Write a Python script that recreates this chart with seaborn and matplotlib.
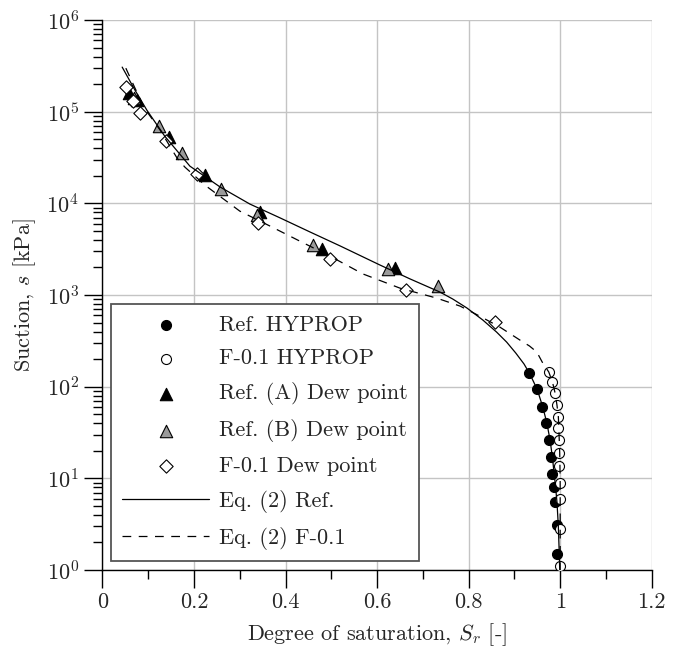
import matplotlib
matplotlib.use('Agg')
import matplotlib.pyplot as plt
import matplotlib.ticker as mticker
import seaborn as sns

sns.set_style('ticks')
plt.rcParams['font.family'] = ['cmr10', 'DejaVu Serif']
plt.rcParams['mathtext.fontset'] = 'cm'
plt.rcParams['axes.formatter.use_mathtext'] = True
plt.rcParams['font.size'] = 16

# Ref. HYPROP (black circles)
ref_hyp_sr = [0.932, 0.949, 0.961, 0.970, 0.976, 0.980, 0.983, 0.986, 0.989, 0.992, 0.993]
ref_hyp_s = [142, 93.5, 60.4, 39.8, 26.2, 17.2, 11.3, 7.98, 5.56, 3.1, 1.5]

# F-0.1 HYPROP (open circles)
f_hyp_sr = [0.976, 0.983, 0.989, 0.993, 0.996, 0.996, 0.997, 0.997, 0.997, 0.999, 0.999, 1.0, 1.0]
f_hyp_s = [146, 113, 84.7, 63, 47, 35.7, 26.2, 19, 13.6, 8.83, 5.9, 2.78, 1.1]

# Ref. (A) Dew point (black triangles)
ref_a_sr = [0.058, 0.075, 0.146, 0.224, 0.344, 0.479, 0.639]
ref_a_s = [1.6e5, 1.34e5, 5.3e4, 2.04e4, 8.1e3, 3.15e3, 1.97e3]

# Ref. (B) Dew point (grey triangles)
ref_b_sr = [0.069, 0.124, 0.173, 0.260, 0.337, 0.460, 0.624, 0.734]
ref_b_s = [1.41e5, 6.97e4, 3.57e4, 1.42e4, 7.46e3, 3.48e3, 1.92e3, 1.25e3]

# F-0.1 Dew point (diamonds)
f_dew_sr = [0.051, 0.067, 0.082, 0.139, 0.206, 0.340, 0.498, 0.664, 0.858]
f_dew_s = [1.86e5, 1.31e5, 9.7e4, 4.8e4, 2.09e4, 6.05e3, 2.49e3, 1.15e3, 512]

# Eq. (2) Ref. (solid curve)
eq_ref_sr = [0.043, 0.071, 0.097, 0.136, 0.191, 0.257, 0.322, 0.388, 0.453, 0.519,
             0.606, 0.672, 0.737, 0.765, 0.796, 0.831, 0.861, 0.883, 0.903, 0.921,
             0.934, 0.950, 0.962, 0.971, 0.978, 0.983, 0.987, 0.990, 0.993, 0.996,
             0.998, 0.999]
eq_ref_s = [3.07e5, 1.72e5, 1.04e5, 5.42e4, 2.55e4, 1.51e4, 9.84e3, 6.95e3, 4.89e3, 3.44e3,
            2.13e3, 1.50e3, 1.08e3, 907, 724, 534, 395, 307, 233, 177,
            137, 93, 60, 40, 26, 17, 11, 8, 5.5, 3,
            1.5, 1.0]

# Eq. (2) F-0.1 (dashed curve)
eq_f_sr = [0.051, 0.071, 0.093, 0.126, 0.163, 0.180, 0.224, 0.256, 0.300, 0.366,
           0.431, 0.497, 0.569, 0.650, 0.730, 0.781, 0.824, 0.868, 0.912, 0.933,
           0.949, 0.962, 0.975, 0.983, 0.989, 0.993, 0.996, 0.997, 0.998, 0.999,
           0.9995, 1.0, 1.0, 1.0, 1.0]
eq_f_s = [2.99e5, 1.81e5, 1.07e5, 6.3e4, 3.12e4, 2.49e4, 1.58e4, 1.2e4, 8.24e3, 5.66e3,
          3.88e3, 2.66e3, 1.70e3, 1.19e3, 927, 759, 590, 448, 323, 278,
          239, 181, 145, 113, 85, 63, 47, 36, 26, 19,
          13.6, 8.8, 5.9, 2.8, 1.0]

x_ticks = [0, 0.2, 0.4, 0.6, 0.8, 1.0, 1.2]
x_tick_labels = ['0', '0.2', '0.4', '0.6', '0.8', '1', '1.2']

fig = plt.figure(figsize=(6.81, 6.59), dpi=100)
ax = fig.add_axes([0.1505, 0.135, 0.8065, 0.8345])

mk = dict(edgecolor='black', linewidth=0.8, zorder=3)
sns.scatterplot(x=ref_hyp_sr, y=ref_hyp_s, marker='o', s=52, color='black',
                label='Ref. HYPROP', ax=ax, **mk)
sns.scatterplot(x=f_hyp_sr, y=f_hyp_s, marker='o', s=52, color='white',
                label='F-0.1 HYPROP', ax=ax, **mk)
sns.scatterplot(x=ref_a_sr, y=ref_a_s, marker='^', s=80, color='black',
                label='Ref. (A) Dew point', ax=ax, **mk)
sns.scatterplot(x=ref_b_sr, y=ref_b_s, marker='^', s=80, color='#9a9a9a',
                label='Ref. (B) Dew point', ax=ax, **mk)
sns.scatterplot(x=f_dew_sr, y=f_dew_s, marker='D', s=46, color='white',
                label='F-0.1 Dew point', ax=ax, **mk)

sns.lineplot(x=eq_ref_sr, y=eq_ref_s, sort=False, estimator=None, color='black',
             linewidth=0.9, label='Eq. (2) Ref.', ax=ax, zorder=4)
sns.lineplot(x=eq_f_sr, y=eq_f_s, sort=False, estimator=None, color='black',
             linewidth=0.9, label='Eq. (2) F-0.1', ax=ax, zorder=4)
ax.lines[-1].set_dashes((7, 6))

ax.set_yscale('log')
ax.set_xlim(0, 1.2)
ax.set_ylim(1, 1e6)
ax.set_xticks(x_ticks)
ax.set_xticklabels(x_tick_labels)
ax.xaxis.set_minor_locator(mticker.MultipleLocator(0.1))
ax.xaxis.set_minor_formatter(mticker.NullFormatter())
ax.yaxis.set_major_locator(mticker.LogLocator(base=10, numticks=10))
ax.yaxis.set_minor_locator(mticker.LogLocator(base=10, subs=range(2, 10), numticks=20))
ax.yaxis.set_minor_formatter(mticker.NullFormatter())

ax.tick_params(which='both', bottom=True, left=True, top=False, right=False)
ax.tick_params(which='major', direction='out', length=13, width=1, pad=3,
               labelsize=16, color='black')
ax.tick_params(which='minor', direction='out', length=6.5, width=1, color='black')
ax.tick_params(axis='y', which='major', pad=4)

ax.grid(True, which='major', color='#c4c4c4', linewidth=1.0)
ax.set_axisbelow(True)
for side in ['top', 'right']:
    ax.spines[side].set_visible(False)
for side in ['left', 'bottom']:
    ax.spines[side].set_color('black')
    ax.spines[side].set_linewidth(1.0)

ax.set_xlabel('Degree of saturation, $S_r$ [-]', fontsize=16, labelpad=7)
ax.set_ylabel('Suction, $s$ [kPa]', fontsize=16, labelpad=6)

handles, labels = ax.get_legend_handles_labels()
leg = ax.legend(handles, labels, loc='lower left', fontsize=16, frameon=True,
                fancybox=False, framealpha=1, edgecolor='#555555',
                handlelength=3.9, handletextpad=0.45, labelspacing=0.63,
                borderpad=0.5, borderaxespad=0.4, scatterpoints=1)
leg.get_frame().set_linewidth(1.3)

fig.savefig('out.png', dpi=100)
